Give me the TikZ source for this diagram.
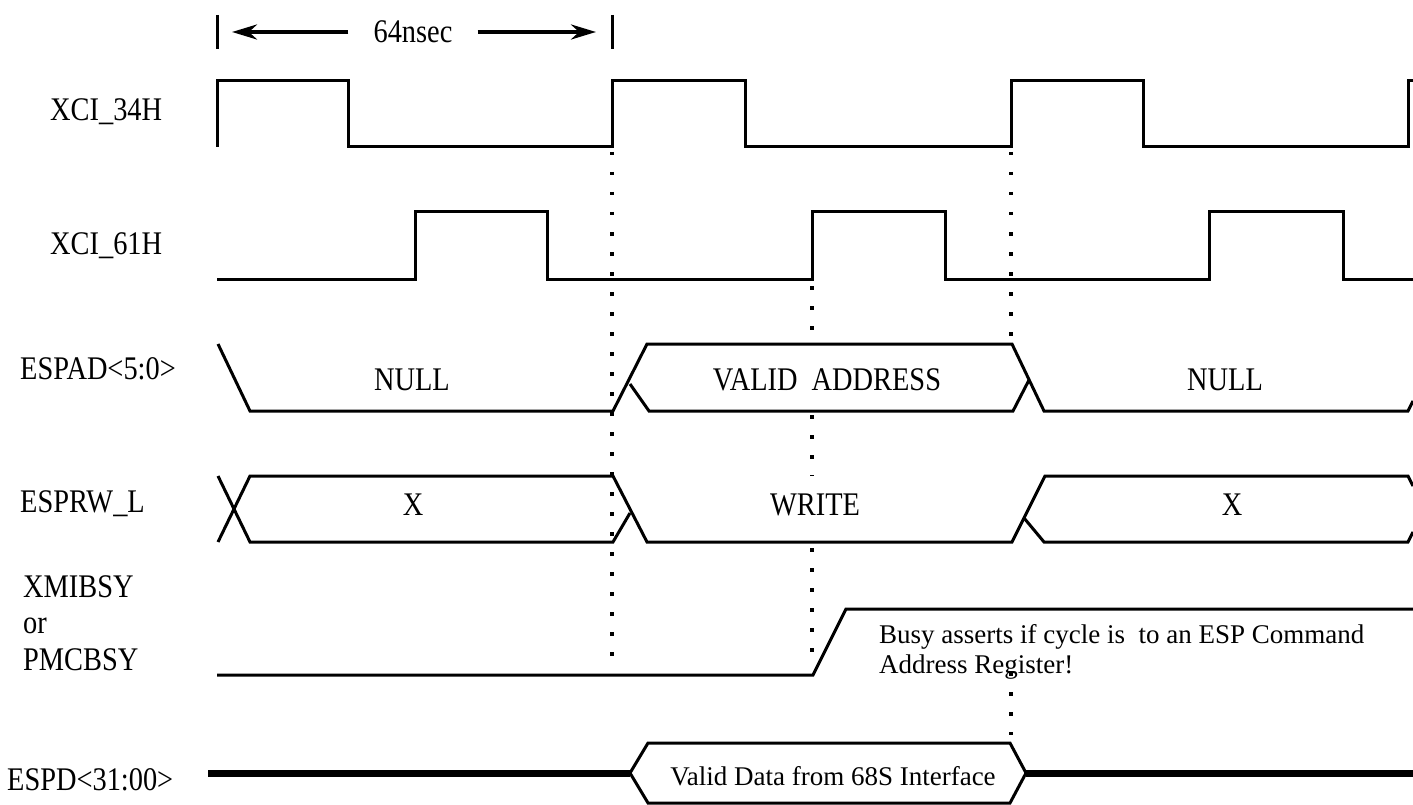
\documentclass[tikz,border=0pt]{standalone}
\usepackage{fontspec}
\setmainfont{Liberation Serif}
\newfontfamily\narrowfont[FakeStretch=0.86]{Liberation Serif}
\usetikzlibrary{arrows.meta}
\begin{document}
\begin{tikzpicture}[x=1pt,y=-1pt,>={Stealth[length=25pt,width=15pt]},
  sig/.style={line width=3pt},
  bus/.style={line width=7pt},
  guide/.style={line width=3.5pt,dash pattern=on 3.5pt off 16.5pt},
  lbl/.style={font=\narrowfont\fontsize{33}{36.5}\selectfont,inner sep=0pt},
  note/.style={font=\fontsize{27}{30}\selectfont,inner sep=0pt}]
\useasboundingbox (0,0) rectangle (1413,805);

%period marker
\draw[sig] (217,15)--(217,49) (612,15)--(612,49);
\coordinate (tl) at (232,32);
\coordinate (tr) at (596,32);
\node(ns)[lbl,inner xsep=25pt] at (413,32){64nsec};
\draw[->,line width=4pt] (ns)--(tl);
\draw[->,line width=4pt] (ns)--(tr);

\node(s1)[lbl,anchor=base west] at (50,121){XCI\_34H};
\node(s2)[lbl,anchor=base west] at (50,254){XCI\_61H};
\node(s3)[lbl,anchor=base west] at (20,379){ESPAD<5:0>};
\node(s4)[lbl,anchor=base west] at (20,512){ESPRW\_L};
\node(s5)[lbl,anchor=north west,align=left] at (23,575){XMIBSY\\or\\PMCBSY};
\node(s6)[lbl,anchor=base west] at (7,790){ESPD<31:00>};

%clocks
\draw[sig] (217,147)--(217,81)--(348,81)--(348,147)--(612,147)--(612,81)--(745,81)--(745,147)--(1011,147)--(1011,81)--(1143,81)--(1143,147)--(1408,147)--(1408,81)--(1413,81);
\draw[sig] (217,279)--(415,279)--(415,212)--(547,212)--(547,279)--(812,279)--(812,212)--(945,212)--(945,279)--(1209,279)--(1209,212)--(1343,212)--(1343,279)--(1413,279);

%address
\draw[sig] (218,344)--(250,411)--(613,411)--(647,344)--(1012,344)--(1044,411)--(1408,411)--(1413,401);
\draw[sig] (630,384)--(649,411)--(1013,411)--(1029,380);
\node(n1)[lbl,anchor=base] at (412,390){NULL};
\node(n2)[lbl,anchor=base] at (827,390){VALID\ \ ADDRESS};
\node(n3)[lbl,anchor=base] at (1225,390){NULL};

%read/write
\draw[sig] (218,542)--(250,476)--(613,476)--(647,542)--(1012,542)--(1045,476)--(1408,476)--(1413,486);
\draw[sig] (218,476)--(250,542)--(613,542)--(630,513);
\draw[sig] (1024,518)--(1044,542)--(1408,542)--(1413,532);
\node(w1)[lbl,anchor=base] at (413,515){X};
\node(w2)[lbl,anchor=base] at (815,515){WRITE};
\node(w3)[lbl,anchor=base] at (1232,515){X};

%busy
\draw[sig] (217,675)--(813,675)--(846,609)--(1413,609);
\node(busy)[note,anchor=north west,align=left] at (879,624){Busy asserts if cycle is\ \ to an ESP Command\\Address Register!};

%data
\coordinate (dl) at (630,773);
\coordinate (dr) at (1026,773);
\draw[bus] (208,773)--(dl);
\draw[sig] (dl)--(648,743)--(1010,743)--(dr)--(1010,803)--(648,803)--cycle;
\draw[bus] (dr)--(1413,773);
\node(vd)[note,anchor=base] at (833,785){Valid Data from 68S Interface};

\draw[guide] (612,152)--(612,668);
\draw[guide] (812,286)--(812,344) (812,415)--(812,476) (812,548)--(812,668);
\draw[guide] (1011,152)--(1011,344) (1011,672)--(1011,735);
\end{tikzpicture}
\end{document}
